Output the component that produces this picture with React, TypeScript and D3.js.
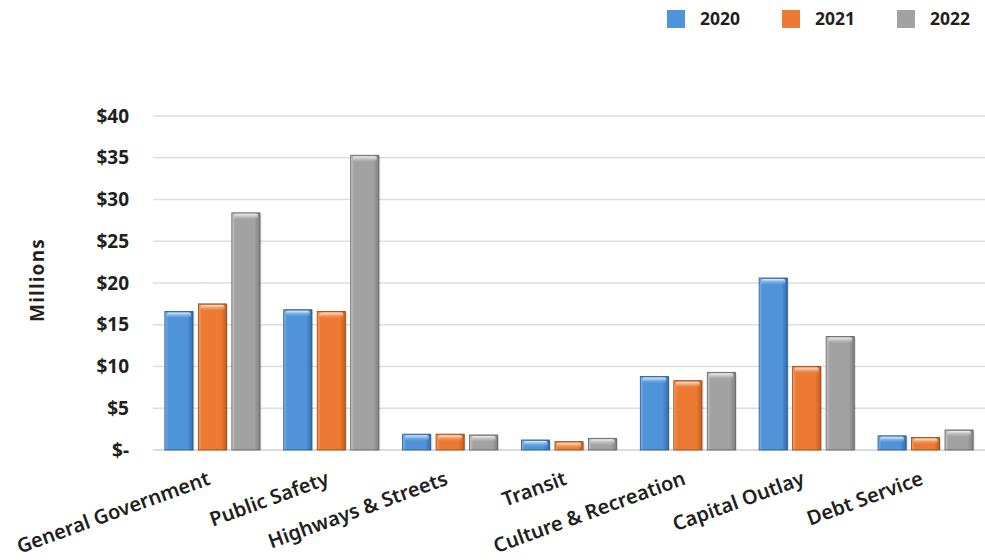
import React from "react";
import * as d3 from "d3";

const categories = [
  "General Government",
  "Public Safety",
  "Highways & Streets",
  "Transit",
  "Culture & Recreation",
  "Capital Outlay",
  "Debt Service",
];
const seriesNames = ["2020", "2021", "2022"];
const values2020 = [16.6, 16.8, 1.9, 1.2, 8.8, 20.6, 1.7];
const values2021 = [17.5, 16.6, 1.9, 1.0, 8.3, 10.0, 1.5];
const values2022 = [28.4, 35.3, 1.8, 1.4, 9.3, 13.6, 2.4];
const yTicks = [0, 5, 10, 15, 20, 25, 30, 35, 40];

const W = 985;
const H = 560;
const plotLeft = 153;
const plotRight = 985;
const plotTop = 116;
const plotBottom = 450;

const palette = [
  { base: "#4f93d8", light: "#7fb5ea", dark: "#2f6db0", edge: "#24558a" },
  { base: "#ec7a32", light: "#f7a064", dark: "#c85d18", edge: "#8e4310" },
  { base: "#a2a2a2", light: "#c8c8c8", dark: "#808080", edge: "#5e5e5e" },
];

const fontFamily = "'Noto Sans', 'Open Sans', sans-serif";

export default function App() {
  const allSeries = [values2020, values2021, values2022];
  const y = d3.scaleLinear().domain([0, 40]).range([plotBottom, plotTop]);
  const x0 = d3
    .scaleBand<string>()
    .domain(categories)
    .range([plotLeft, plotRight])
    .paddingInner(0.2)
    .paddingOuter(0.1);
  const x1 = d3
    .scaleBand<string>()
    .domain(seriesNames)
    .range([0, x0.bandwidth()])
    .paddingInner(0.16);

  const fmt = (v: number) => (v === 0 ? "$-" : `$${v}`);

  return (
    <svg
      width={W}
      height={H}
      style={{ position: "absolute", left: 0, top: 0, background: "#fff" }}
      fontFamily={fontFamily}
    >
      <defs>
        {palette.map((p, i) => (
          <React.Fragment key={i}>
            <linearGradient id={`h${i}`} x1="0" y1="0" x2="1" y2="0">
              <stop offset="0" stopColor={p.light} />
              <stop offset="0.12" stopColor={p.base} />
              <stop offset="0.8" stopColor={p.base} />
              <stop offset="1" stopColor={p.dark} />
            </linearGradient>
            <linearGradient id={`t${i}`} x1="0" y1="0" x2="0" y2="1">
              <stop offset="0" stopColor="#ffffff" stopOpacity="0.85" />
              <stop offset="1" stopColor={p.light} stopOpacity="0" />
            </linearGradient>
          </React.Fragment>
        ))}
      </defs>
      <rect x={0} y={0} width={W} height={H} fill="#fff" />

      {/* gridlines */}
      {yTicks.map((t) => (
        <line
          key={t}
          x1={plotLeft}
          x2={plotRight}
          y1={y(t)}
          y2={y(t)}
          stroke={t === 0 ? "#cfcfcf" : "#dedede"}
          strokeWidth={1.5}
        />
      ))}

      {/* y tick labels */}
      {yTicks.map((t) => (
        <text
          key={t}
          x={129}
          y={y(t)}
          dy="0.35em"
          textAnchor="end"
          fontSize={19}
          fontWeight={700}
          fill="#231f20"
        >
          {fmt(t)}
        </text>
      ))}

      <text
        transform={`translate(44, ${(plotTop + plotBottom) / 2 - 3}) rotate(-90)`}
        textAnchor="middle"
        fontSize={19}
        fontWeight={700}
        letterSpacing={1.2}
        fill="#231f20"
      >
        Millions
      </text>

      {/* bars */}
      {categories.map((c, ci) => (
        <g key={c} transform={`translate(${x0(c)},0)`}>
          {seriesNames.map((s, si) => {
            const v = allSeries[si][ci];
            const bx = x1(s) as number;
            const bw = x1.bandwidth();
            const by = y(v);
            const bh = plotBottom - by;
            const p = palette[si];
            return (
              <g key={s}>
                <rect x={bx + 1.5} y={by + 1} width={bw} height={bh - 1} fill="#000" opacity={0.12} />
                <rect x={bx} y={by} width={bw} height={bh} fill={`url(#h${si})`} stroke={p.edge} strokeWidth={0.8} />
                <rect
                  x={bx + 2}
                  y={by + 1}
                  width={bw - 4}
                  height={Math.min(6, bh - 1)}
                  rx={2}
                  fill={`url(#t${si})`}
                />
              </g>
            );
          })}
        </g>
      ))}

      {/* x labels */}
      {categories.map((c) => {
        const cx = (x0(c) as number) + x0.bandwidth() / 2;
        return (
          <text
            key={c}
            transform={`translate(${cx - 1}, 484) rotate(-20)`}
            textAnchor="end"
            fontSize={20}
            fontWeight={600}
            fill="#231f20"
          >
            {c}
          </text>
        );
      })}

      {/* legend */}
      {seriesNames.map((s, i) => {
        const lx = 667 + i * 115;
        return (
          <g key={s}>
            <rect x={lx} y={10} width={18} height={18} fill={palette[i].base} />
            <text x={lx + 33} y={19} dy="0.36em" fontSize={17.5} fontWeight={700} fill="#231f20">
              {s}
            </text>
          </g>
        );
      })}
    </svg>
  );
}
